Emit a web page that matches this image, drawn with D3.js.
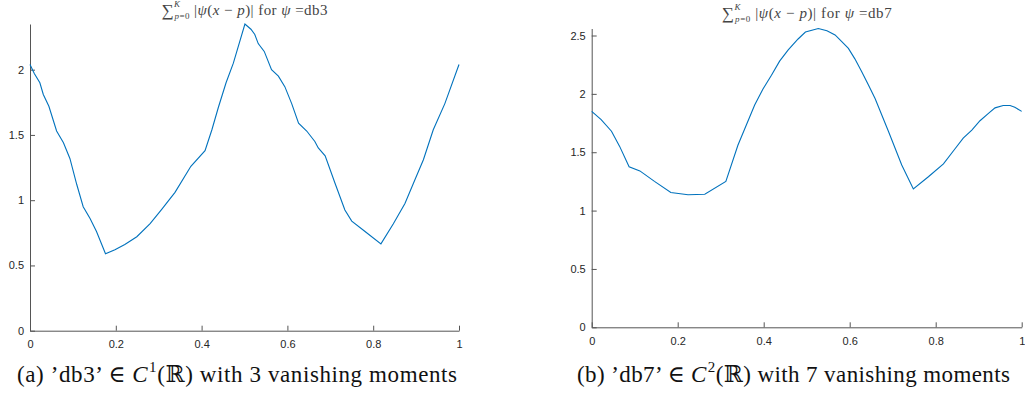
<!DOCTYPE html>
<html>
<head>
<meta charset="utf-8">
<script src="https://cdn.jsdelivr.net/npm/d3@7"></script>
<style>
  body { margin: 0; background: #fff; }
  svg { display: block; }
  .tick text { font-family: "Liberation Sans", Arial, sans-serif; font-size: 11px; fill: #262626; }
  .title { font-family: "Liberation Serif", "DejaVu Serif", serif; font-size: 15px; fill: #444; }
  .caption { font-family: "Liberation Serif", "DejaVu Serif", serif; font-size: 23px; fill: #111; }
</style>
</head>
<body>
<div id="chart"></div>
<script>
// db3 curve
const db3X = [0, 0.010, 0.023, 0.031, 0.044, 0.062, 0.078, 0.093, 0.109, 0.124, 0.140, 0.155, 0.176,
  0.198, 0.221, 0.249, 0.280, 0.307, 0.338, 0.375, 0.408, 0.424, 0.439, 0.457, 0.474, 0.501,
  0.515, 0.524, 0.532, 0.546, 0.563, 0.579, 0.594, 0.610, 0.626, 0.645, 0.664, 0.672, 0.688,
  0.711, 0.734, 0.750, 0.781, 0.818, 0.847, 0.874, 0.897, 0.917, 0.940, 0.967, 1.0]
const db3Y = [2.04, 1.97, 1.90, 1.81, 1.72, 1.53, 1.44, 1.32, 1.12, 0.95, 0.86, 0.76, 0.59,
  0.62, 0.66, 0.72, 0.82, 0.93, 1.06, 1.26, 1.38, 1.54, 1.71, 1.90, 2.05, 2.35,
  2.31, 2.27, 2.20, 2.14, 2.00, 1.95, 1.87, 1.74, 1.59, 1.53, 1.45, 1.40, 1.34,
  1.13, 0.925, 0.84, 0.76, 0.665, 0.82, 0.975, 1.155, 1.31, 1.54, 1.74, 2.04]

// db7 curve
const db7X = [0, 0.022, 0.046, 0.065, 0.087, 0.112, 0.146, 0.184, 0.224, 0.263, 0.312, 0.340,
  0.379, 0.398, 0.418, 0.437, 0.457, 0.480, 0.497, 0.527, 0.547, 0.566, 0.581, 0.597, 0.612,
  0.628, 0.643, 0.659, 0.690, 0.721, 0.748, 0.783, 0.818, 0.845, 0.864, 0.884, 0.903, 0.922,
  0.938, 0.957, 0.973, 0.984, 1.0]
const db7Y = [1.85, 1.78, 1.68, 1.55, 1.376, 1.34, 1.25, 1.155, 1.136, 1.14, 1.25, 1.56,
  1.905, 2.04, 2.16, 2.28, 2.376, 2.47, 2.53, 2.56, 2.54, 2.505, 2.45, 2.39, 2.30,
  2.19, 2.08, 1.96, 1.68, 1.39, 1.185, 1.29, 1.40, 1.53, 1.62, 1.69, 1.77, 1.83,
  1.88, 1.90, 1.90, 1.885, 1.85]

const xTicks = [0, 0.2, 0.4, 0.6, 0.8, 1]
const db3YTicks = [0, 0.5, 1, 1.5, 2]
const db7YTicks = [0, 0.5, 1, 1.5, 2, 2.5]

const WIDTH = 1025, HEIGHT = 396
const LINE_COLOR = "#0072BD"
const AXIS_COLOR = "#555"

const svg = d3.select("#chart").append("svg")
  .attr("width", WIDTH)
  .attr("height", HEIGHT)

function panel(opts) {
  const x = d3.scaleLinear().domain([0, 1]).range([opts.left, opts.right])
  const y = d3.scaleLinear().domain([0, d3.max(opts.ys)]).range([opts.bottom, opts.top])

  const g = svg.append("g")

  // x axis, ticks pointing inward
  const xAxis = g.append("g")
    .attr("transform", `translate(0, ${opts.bottom})`)
    .call(d3.axisBottom(x).tickValues(xTicks).tickSizeInner(-5).tickSizeOuter(0).tickPadding(10)
      .tickFormat(d => d3.format("")(d)))
  xAxis.select(".domain").attr("stroke", AXIS_COLOR)
  xAxis.selectAll(".tick line").attr("stroke", AXIS_COLOR)

  const yAxis = g.append("g")
    .attr("transform", `translate(${opts.left}, 0)`)
    .call(d3.axisLeft(y).tickValues(opts.yTicks).tickSizeInner(-5).tickSizeOuter(0).tickPadding(6)
      .tickFormat(d => d3.format("")(d)))
  yAxis.select(".domain").attr("stroke", AXIS_COLOR)
  yAxis.selectAll(".tick line").attr("stroke", AXIS_COLOR)

  const pts = opts.xs.map((d, i) => [d, opts.ys[i]])
  g.append("path")
    .datum(pts)
    .attr("fill", "none")
    .attr("stroke", LINE_COLOR)
    .attr("stroke-width", 1.1)
    .attr("d", d3.line().x(d => x(d[0])).y(d => y(d[1])))

  // title: sum_{p=0}^{K} |psi(x - p)| for psi = dbN
  const cx = (opts.left + opts.right) / 2
  const t = g.append("text").attr("class", "title")
    .attr("x", cx).attr("y", opts.titleY).attr("text-anchor", "middle")
    .attr("textLength", opts.titleW).attr("lengthAdjust", "spacing")
  t.append("tspan").attr("font-size", 17).attr("dy", 1).text("∑")
  t.append("tspan").attr("font-size", 9).attr("font-style", "italic").attr("dy", -9).text("K")
  t.append("tspan").attr("font-size", 9).attr("dx", -6).attr("dy", 12).html("<tspan font-style='italic'>p</tspan>=0")
  t.append("tspan").attr("dy", -4).text(" |")
  t.append("tspan").attr("font-style", "italic").text("ψ")
  t.append("tspan").text("(")
  t.append("tspan").attr("font-style", "italic").text("x")
  t.append("tspan").text(" − ")
  t.append("tspan").attr("font-style", "italic").text("p")
  t.append("tspan").text(")| for ")
  t.append("tspan").attr("font-style", "italic").text("ψ")
  t.append("tspan").text(" =" + opts.name)

  // caption under the panel
  const c = svg.append("text").attr("class", "caption")
    .attr("x", opts.captionX).attr("y", 382)
    .attr("textLength", opts.captionW).attr("lengthAdjust", "spacing")
  c.append("tspan").text(`(${opts.letter}) ’${opts.name}’ ∈ `)
  c.append("tspan").attr("font-style", "italic").text("C")
  c.append("tspan").attr("font-size", 15).attr("dx", 1).attr("dy", -10).text(opts.smooth)
  c.append("tspan").attr("dy", 10).text("(ℝ) with " + opts.moments + " vanishing moments")
}

panel({
  xs: db3X, ys: db3Y, yTicks: db3YTicks,
  left: 30, right: 459, top: 24, bottom: 330.7,
  titleY: 15, titleW: 166, name: "db3", letter: "a", smooth: "1", moments: 3,
  captionX: 17, captionW: 440
})

panel({
  xs: db7X, ys: db7Y, yTicks: db7YTicks,
  left: 591.7, right: 1021.7, top: 28.5, bottom: 327.3,
  titleY: 18, titleW: 170, name: "db7", letter: "b", smooth: "2", moments: 7,
  captionX: 577, captionW: 433
})
</script>
</body>
</html>
